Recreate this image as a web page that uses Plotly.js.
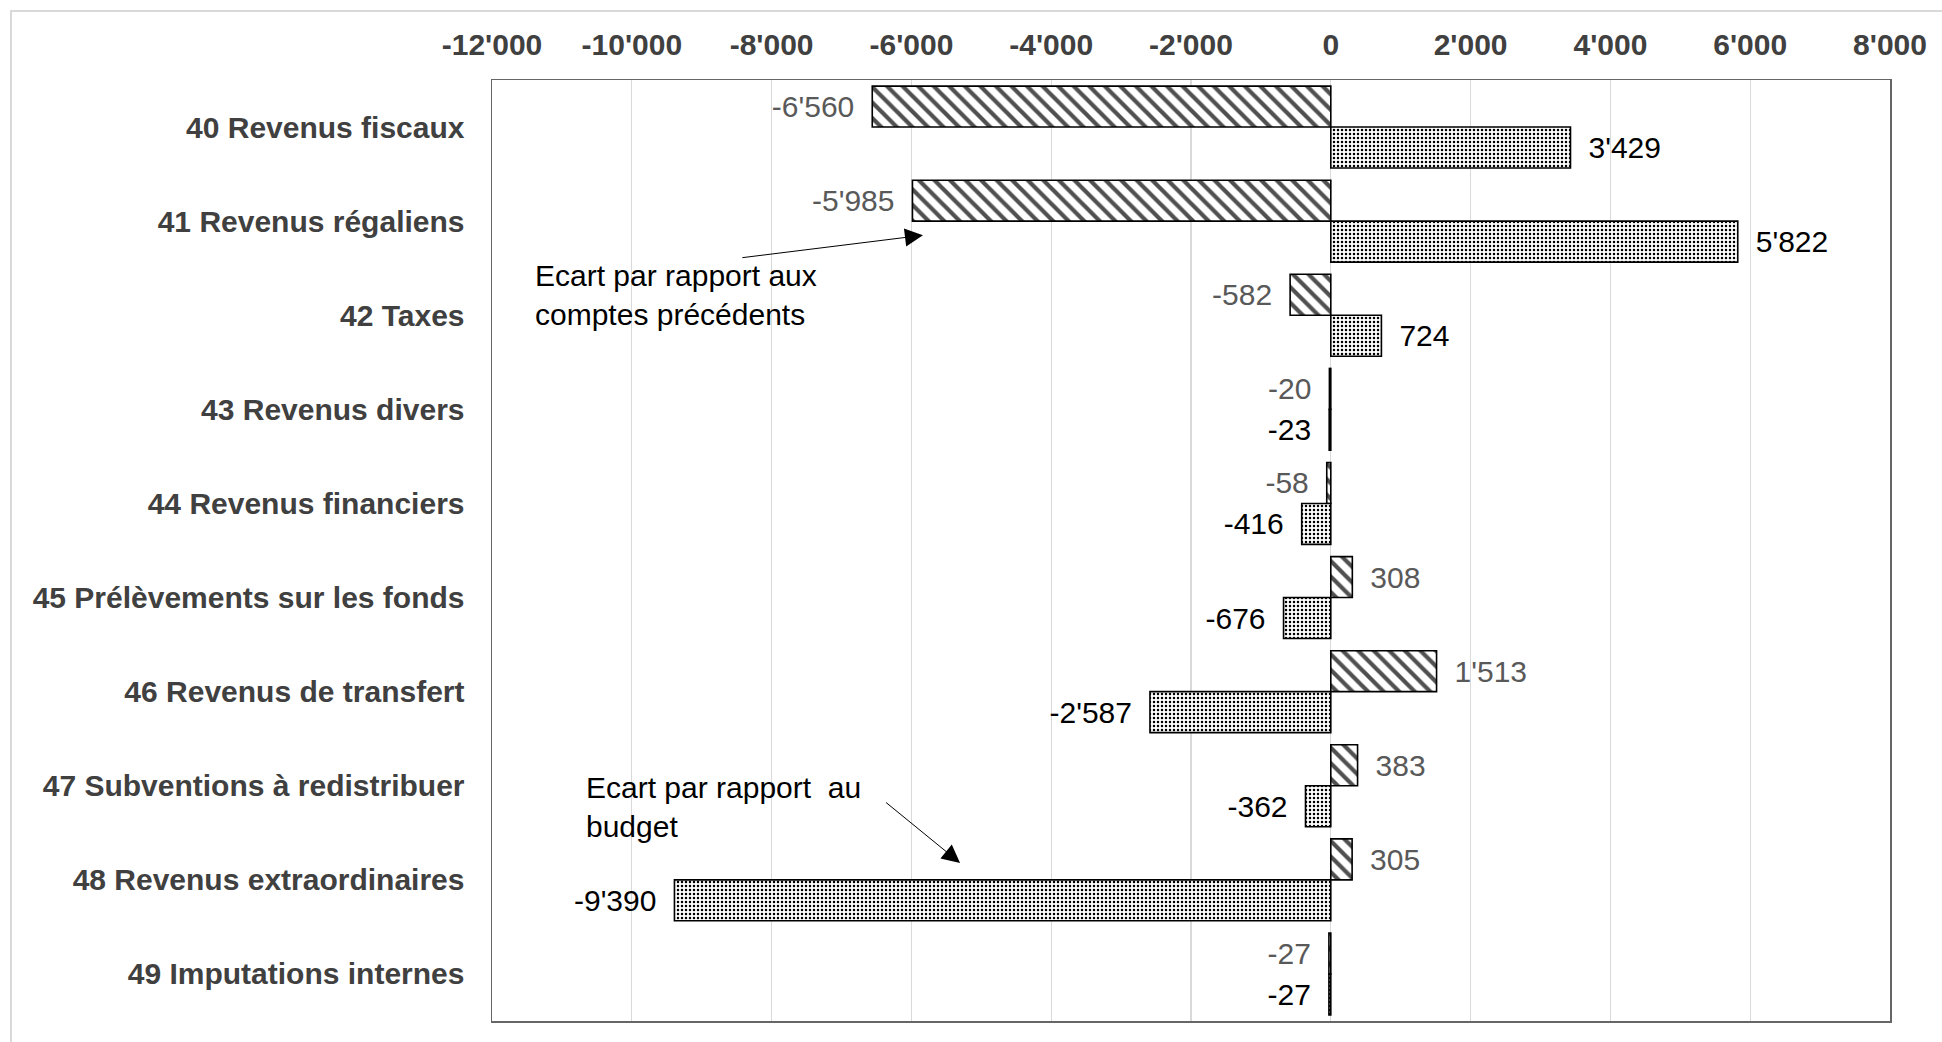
<!DOCTYPE html>
<html>
<head>
<meta charset="utf-8">
<script src="https://cdn.plot.ly/plotly-3.0.1.min.js"></script>
<style>
  html, body { margin: 0; padding: 0; background: #fff; }
  #wrap { position: relative; width: 1942px; height: 1042px; overflow: hidden; }
  #frame { position: absolute; left: 10px; top: 10px; width: 2000px; height: 1100px;
           border-top: 2px solid #d9d9d9; border-left: 2px solid #d9d9d9; pointer-events: none; }
  #chart { position: absolute; left: 0; top: 0; width: 1942px; height: 1042px; }
</style>
</head>
<body>
<div id="wrap">
  <div id="chart"></div>
  <div id="frame"></div>
</div>
<script>
// ---- data ----
const categories = [
  "40 Revenus fiscaux",
  "41 Revenus régaliens",
  "42 Taxes",
  "43 Revenus divers",
  "44 Revenus financiers",
  "45 Prélèvements sur les fonds",
  "46 Revenus de transfert",
  "47 Subventions à redistribuer",
  "48 Revenus extraordinaires",
  "49 Imputations internes"
];
const seriesComptesName = "Ecart par rapport aux comptes précédents";
const seriesComptes = [-6560, -5985, -582, -20, -58, 308, 1513, 383, 305, -27];
const seriesBudgetName = "Ecart par rapport au budget";
const seriesBudget = [3429, 5822, 724, -23, -416, -676, -2587, -362, -9390, -27];
const xTickValues = [-12000, -10000, -8000, -6000, -4000, -2000, 0, 2000, 4000, 6000, 8000];

// ---- helpers ----
function fmt(n) {
  const s = Math.abs(n).toString().replace(/\B(?=(\d{3})+(?!\d))/g, "'");
  return (n < 0 ? "-" : "") + s;
}
function labelText(n) {
  return n < 0 ? fmt(n) + "\u2002" : "\u2002" + fmt(n);
}

const FONT = "Liberation Sans, Arial, sans-serif";
const FS = 30;

const traceComptes = {
  type: "bar",
  orientation: "h",
  name: seriesComptesName,
  y: categories,
  x: seriesComptes,
  text: seriesComptes.map(labelText),
  textposition: "outside",
  constraintext: "none",
  cliponaxis: false,
  textfont: { family: FONT, size: FS, color: "#595959" },
  marker: {
    color: "#ffffff",
    line: { color: "#000000", width: 1.6 },
    pattern: { shape: "\\", fgcolor: "#505050", bgcolor: "#ffffff", size: 11, solidity: 0.38 }
  },
  hoverinfo: "skip"
};
const traceBudget = {
  type: "bar",
  orientation: "h",
  name: seriesBudgetName,
  y: categories,
  x: seriesBudget,
  text: seriesBudget.map(labelText),
  textposition: "outside",
  constraintext: "none",
  cliponaxis: false,
  textfont: { family: FONT, size: FS, color: "#000000" },
  marker: {
    color: "#ffffff",
    line: { color: "#000000", width: 1.6 },
    pattern: { shape: ".", fgcolor: "#000000", bgcolor: "#ffffff", size: 4, solidity: 0.3 }
  },
  hoverinfo: "skip"
};

const layout = {
  width: 1942,
  height: 1042,
  margin: { l: 492, r: 52, t: 80, b: 21, pad: 0 },
  paper_bgcolor: "#ffffff",
  plot_bgcolor: "#ffffff",
  font: { family: FONT, size: FS, color: "#000000" },
  showlegend: false,
  barmode: "group",
  bargap: 0.13,
  bargroupgap: 0,
  xaxis: {
    side: "top",
    range: [-12000, 8000],
    tickvals: xTickValues,
    ticktext: xTickValues.map(fmt),
    tickfont: { family: FONT, size: FS, color: "#404040", weight: "bold" },
    ticklabelstandoff: 12,
    ticks: "",
    showgrid: true,
    gridcolor: "#d9d9d9",
    gridwidth: 1.3,
    zeroline: false,
    showline: true,
    linecolor: "#666666",
    linewidth: 1.5,
    mirror: true,
    fixedrange: true
  },
  yaxis: {
    type: "category",
    autorange: "reversed",
    tickfont: { family: FONT, size: FS, color: "#404040", weight: "bold" },
    ticklabelstandoff: 20,
    ticks: "",
    showgrid: false,
    zeroline: false,
    showline: true,
    linecolor: "#666666",
    linewidth: 1.5,
    mirror: true,
    fixedrange: true
  },
  annotations: [
    {
      xref: "x", yref: "y",
      x: -11420, y: 1.78,
      text: "Ecart par rapport aux<br>comptes précédents",
      showarrow: false,
      xanchor: "left", yanchor: "middle", align: "left",
      font: { family: FONT, size: FS, color: "#000000" }
    },
    {
      xref: "x", yref: "y", axref: "x", ayref: "y",
      x: -5835, y: 1.15,
      ax: -8440, ay: 1.39,
      text: "",
      showarrow: true,
      arrowhead: 2, arrowsize: 3.6, arrowwidth: 1, arrowcolor: "#000000",
      standoff: 0, startstandoff: 0
    },
    {
      xref: "x", yref: "y",
      x: -10680, y: 7.23,
      text: "Ecart par rapport&nbsp; au<br>budget",
      showarrow: false,
      xanchor: "left", yanchor: "middle", align: "left",
      font: { family: FONT, size: FS, color: "#000000" }
    },
    {
      xref: "x", yref: "y", axref: "x", ayref: "y",
      x: -5304, y: 7.82,
      ax: -6384, ay: 7.165,
      text: "",
      showarrow: true,
      arrowhead: 2, arrowsize: 3.6, arrowwidth: 1, arrowcolor: "#000000",
      standoff: 0, startstandoff: 0
    }
  ]
};

Plotly.newPlot("chart", [traceComptes, traceBudget], layout, { displayModeBar: false, staticPlot: true });
</script>
</body>
</html>
